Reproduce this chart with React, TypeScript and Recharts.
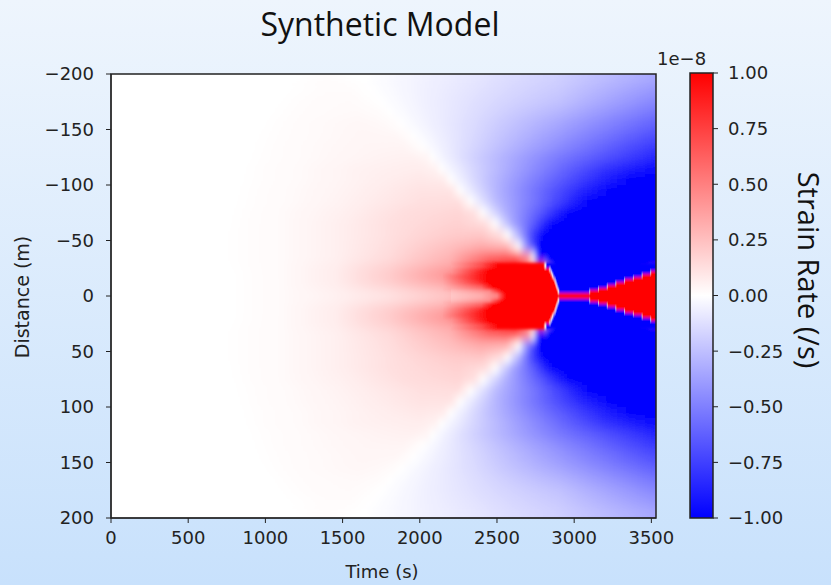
import type { ReactNode } from "react"
import { ComposedChart, ReferenceArea, Scatter, XAxis, YAxis } from "recharts"

const timeTicks = [0, 500, 1000, 1500, 2000, 2500, 3000, 3500]
const distanceTicks = [-200, -150, -100, -50, 0, 50, 100, 150, 200]
const colorbarTicks = [-1, -0.75, -0.5, -0.25, 0, 0.25, 0.5, 0.75, 1]
const timeMax = 3530

// |distance| band edges (m), the model is symmetric about 0
const bandEdges = [0, 2.5, 5, 7.5, 10, 12.5, 15, 17.5, 20, 22.5, 25, 30, 40, 50, 60, 70, 80, 90, 100, 110, 120, 130, 140, 150, 160, 170, 180, 190, 200]

// strain rate (1e-8 /s) read along each band, as [time (s), value]
const bandStrain: [number, number][][] = [
    [[0, 0], [750, 0], [1100, 0.02], [1450, 0.05], [1800, 0.11], [2200, 0.22], [2400, 0.33], [2500, 0.5], [2560, 1], [3530, 1]],
    [[0, 0], [750, 0], [1100, 0.02], [1450, 0.06], [1800, 0.12], [2200, 0.25], [2450, 0.45], [2540, 1], [2888, 1], [2898, 0], [2908, -1], [3095, -1], [3101, 0], [3107, 1], [3530, 1]],
    [[0, 0], [750, 0], [1100, 0.02], [1450, 0.06], [1800, 0.15], [2150, 0.28], [2400, 0.55], [2505, 1], [2884, 1], [2894, 0], [2904, -1], [3151, -1], [3157, 0], [3163, 1], [3530, 1]],
    [[0, 0], [750, 0], [1100, 0.02], [1450, 0.07], [1800, 0.17], [2150, 0.3], [2400, 0.65], [2475, 1], [2878, 1], [2888, 0], [2898, -1], [3208, -1], [3214, 0], [3220, 1], [3530, 1]],
    [[0, 0], [750, 0], [1100, 0.02], [1450, 0.07], [1800, 0.19], [2150, 0.34], [2380, 0.78], [2450, 1], [2872, 1], [2882, 0], [2892, -1], [3264, -1], [3270, 0], [3276, 1], [3530, 1]],
    [[0, 0], [750, 0], [1100, 0.02], [1450, 0.07], [1800, 0.2], [2150, 0.37], [2380, 0.85], [2440, 1], [2866, 1], [2876, 0], [2886, -1], [3321, -1], [3327, 0], [3333, 1], [3530, 1]],
    [[0, 0], [750, 0], [1100, 0.02], [1450, 0.07], [1800, 0.2], [2150, 0.4], [2370, 0.87], [2436, 1], [2858, 1], [2868, 0], [2878, -1], [3377, -1], [3383, 0], [3389, 1], [3530, 1]],
    [[0, 0], [750, 0], [1100, 0.02], [1450, 0.07], [1800, 0.2], [2150, 0.4], [2370, 0.85], [2440, 1], [2850, 1], [2860, 0], [2870, -1], [3434, -1], [3440, 0], [3446, 1], [3530, 1]],
    [[0, 0], [750, 0], [1100, 0.02], [1450, 0.07], [1800, 0.2], [2200, 0.42], [2380, 0.85], [2448, 1], [2842, 1], [2852, 0], [2862, -1], [3490, -1], [3496, 0], [3502, 1], [3530, 1]],
    [[0, 0], [750, 0], [1100, 0.02], [1450, 0.07], [1800, 0.19], [2200, 0.4], [2390, 0.82], [2460, 1], [2832, 1], [2843, 0], [2854, -1], [3530, -1]],
    [[0, 0], [720, 0], [1100, 0.02], [1450, 0.07], [1800, 0.18], [2200, 0.35], [2400, 0.7], [2510, 1], [2800, 1], [2813, 0], [2826, -1], [3530, -1]],
    [[0, 0], [700, 0], [1100, 0.02], [1450, 0.06], [1800, 0.14], [2200, 0.3], [2450, 0.6], [2620, 0.7], [2700, 0.4], [2735, 0], [2775, -1], [3530, -1]],
    [[0, 0], [700, 0], [1100, 0.02], [1450, 0.06], [1800, 0.13], [2200, 0.25], [2400, 0.33], [2560, 0.3], [2640, 0], [2700, -0.5], [2780, -1], [3530, -1]],
    [[0, 0], [700, 0], [1100, 0.02], [1450, 0.06], [1800, 0.12], [2200, 0.2], [2400, 0.22], [2520, 0.12], [2570, 0], [2650, -0.35], [2720, -0.7], [2800, -1], [3530, -1]],
    [[0, 0], [720, 0], [1100, 0.02], [1450, 0.06], [1800, 0.12], [2250, 0.18], [2420, 0.13], [2490, 0], [2600, -0.35], [2740, -0.65], [2860, -1], [3530, -1]],
    [[0, 0], [740, 0], [1100, 0.02], [1500, 0.06], [1900, 0.13], [2250, 0.16], [2350, 0.12], [2410, 0], [2550, -0.3], [2780, -0.65], [2970, -1], [3530, -1]],
    [[0, 0], [760, 0], [1150, 0.02], [1500, 0.05], [2000, 0.12], [2250, 0.13], [2330, 0], [2500, -0.28], [2750, -0.55], [2950, -0.8], [3100, -1], [3530, -1]],
    [[0, 0], [780, 0], [1150, 0.02], [1550, 0.05], [2000, 0.11], [2200, 0.11], [2260, 0], [2500, -0.3], [2800, -0.6], [3050, -0.85], [3240, -1], [3530, -1]],
    [[0, 0], [800, 0], [1200, 0.02], [1600, 0.05], [2000, 0.09], [2150, 0.08], [2200, 0], [2450, -0.25], [2800, -0.55], [3100, -0.8], [3370, -1], [3530, -1]],
    [[0, 0], [820, 0], [1200, 0.02], [1600, 0.05], [2000, 0.07], [2100, 0.05], [2140, 0], [2400, -0.2], [2800, -0.5], [3200, -0.8], [3530, -0.97]],
    [[0, 0], [850, 0], [1250, 0.02], [1650, 0.045], [1950, 0.055], [2050, 0.04], [2080, 0], [2350, -0.18], [2900, -0.52], [3530, -0.86]],
    [[0, 0], [880, 0], [1250, 0.02], [1650, 0.04], [1900, 0.045], [2020, 0], [2350, -0.16], [2900, -0.45], [3530, -0.78]],
    [[0, 0], [900, 0], [1300, 0.02], [1650, 0.035], [1850, 0.03], [1960, 0], [2350, -0.15], [2900, -0.4], [3530, -0.7]],
    [[0, 0], [950, 0], [1300, 0.02], [1600, 0.03], [1780, 0.025], [1880, 0], [2350, -0.14], [2900, -0.35], [3530, -0.62]],
    [[0, 0], [1000, 0], [1300, 0.015], [1600, 0.025], [1720, 0.015], [1810, 0], [2350, -0.13], [2900, -0.29], [3530, -0.54]],
    [[0, 0], [1050, 0], [1350, 0.015], [1550, 0.02], [1750, 0], [2350, -0.12], [2900, -0.24], [3530, -0.47]],
    [[0, 0], [1100, 0], [1400, 0.01], [1550, 0.01], [1690, 0], [2350, -0.11], [2900, -0.21], [3530, -0.41]],
    [[0, 0], [1150, 0], [1400, 0.01], [1640, 0], [2350, -0.1], [2900, -0.19], [3530, -0.35]],
]

// the source zone (|d| <= 30 m) is redrawn sharp, from each band's first reading after 2100 s
const sharpLimit = 30
const sharpFrom = 2100

// matplotlib "bwr" colormap
const bwr = (v: number) => {
    const c = Math.max(-1, Math.min(1, v))
    if (c >= 0) {
        const g = Math.round(255 * (1 - c))
        return `rgb(255,${g},${g})`
    }
    const g = Math.round(255 * (1 + c))
    return `rgb(${g},${g},255)`
}

const minus = (v: number | string) => String(v).replace("-", "\u2212")
const ink = "#222"
const tickStyle = { fontSize: 18, fill: ink, fontFamily: "DejaVu Sans" }

// band edges as points, so the axes have something to scale (not drawn)
const edgePoints = bandEdges.flatMap((e) => [{ t: timeMax, d: -e }, { t: timeMax, d: e }])
const colorbarPoints = colorbarTicks.map((v) => ({ x: 0.5, v }))

const sharpBands = bandStrain.map((_, i) => i).filter((i) => bandEdges[i + 1] <= sharpLimit)
const sharpStops = (i: number) => bandStrain[i].filter(([t]) => t >= sharpFrom)

const bandPair = (i: number, x1: number, grad: string) => [
    <ReferenceArea key={`up${i}`} x1={x1} x2={timeMax} y1={-bandEdges[i + 1]} y2={-bandEdges[i]}
        fill={`url(#${grad}${i})`} fillOpacity={1} stroke="none" shapeRendering="crispEdges" />,
    <ReferenceArea key={`down${i}`} x1={x1} x2={timeMax} y1={bandEdges[i]} y2={bandEdges[i + 1]}
        fill={`url(#${grad}${i})`} fillOpacity={1} stroke="none" shapeRendering="crispEdges" />,
]

// chart with hidden axes laid over the same plot box as the main chart
const HeatLayer = ({ children }: { children: ReactNode }) => (
    <ComposedChart width={700} height={585} margin={{ top: 74, right: 44, bottom: 67, left: 111 }}>
        <XAxis type="number" dataKey="t" domain={[0, timeMax]} allowDataOverflow hide />
        <YAxis type="number" dataKey="d" domain={[-200, 200]} reversed allowDataOverflow hide />
        {children}
        <Scatter data={edgePoints} dataKey="d" shape={() => <g />} isAnimationActive={false} />
    </ComposedChart>
)

const App = () => {
    return (
        <div style={{
            position: "absolute", left: 0, top: 0, width: 831, height: 585, overflow: "hidden",
            background: "linear-gradient(to bottom, #eef5fd, #c8e1fc)", fontFamily: "DejaVu Sans",
        }}>
            <svg width={0} height={0} style={{ position: "absolute" }}>
                <defs>
                    <filter id="smooth" x="-3%" y="-5%" width="106%" height="110%">
                        <feGaussianBlur stdDeviation="2 5" />
                        <feComponentTransfer>
                            <feFuncA type="linear" slope={60} />
                        </feComponentTransfer>
                    </filter>
                    <filter id="soft" x="-3%" y="-5%" width="106%" height="110%">
                        <feGaussianBlur stdDeviation="0.7 1.4" />
                    </filter>
                    {bandStrain.map((stops, i) => (
                        <linearGradient key={`b${i}`} id={`band${i}`} x1="0" y1="0" x2="1" y2="0">
                            {stops.map(([t, v], j) => (
                                <stop key={j} offset={t / timeMax} stopColor={bwr(v)} />
                            ))}
                        </linearGradient>
                    ))}
                    {sharpBands.map((i) => {
                        const t0 = sharpStops(i)[0][0]
                        return (
                            <linearGradient key={`s${i}`} id={`sharp${i}`} x1="0" y1="0" x2="1" y2="0">
                                {sharpStops(i).map(([t, v], j) => (
                                    <stop key={j} offset={(t - t0) / (timeMax - t0)} stopColor={bwr(v)} />
                                ))}
                            </linearGradient>
                        )
                    })}
                </defs>
            </svg>
            {/* heatmap, all bands, softened */}
            <div style={{ position: "absolute", left: 111, top: 74, width: 545, height: 444, overflow: "hidden", background: "#fff" }}>
                <div style={{ position: "absolute", left: -111, top: -74, filter: "url(#smooth)" }}>
                    <HeatLayer>{bandStrain.flatMap((_, i) => bandPair(i, 0, "band"))}</HeatLayer>
                </div>
            </div>
            {/* source zone, sharp */}
            <div style={{ position: "absolute", left: 0, top: 0, filter: "url(#soft)" }}>
                <HeatLayer>{sharpBands.flatMap((i) => bandPair(i, sharpStops(i)[0][0], "sharp"))}</HeatLayer>
            </div>
            <div style={{ position: "absolute", left: 0, top: 0 }}>
                <ComposedChart width={700} height={585} margin={{ top: 74, right: 44, bottom: 37, left: 0 }}>
                    <XAxis type="number" dataKey="t" domain={[0, timeMax]} ticks={timeTicks} interval={0}
                        allowDataOverflow height={30} tickSize={5} tickMargin={8} tick={tickStyle}
                        axisLine={{ stroke: ink }} tickLine={{ stroke: ink }} />
                    <YAxis type="number" dataKey="d" domain={[-200, 200]} reversed ticks={distanceTicks} interval={0}
                        allowDataOverflow width={111} tickSize={5} tickMargin={12} tick={tickStyle} tickFormatter={minus}
                        axisLine={{ stroke: ink }} tickLine={{ stroke: ink }} />
                    <Scatter data={edgePoints} dataKey="d" shape={() => <g />} isAnimationActive={false} />
                    <ReferenceArea x1={0} x2={timeMax} y1={-200} y2={200} fill="none" stroke={ink} strokeWidth={1.5} />
                </ComposedChart>
            </div>
            <div style={{ position: "absolute", left: 640, top: 0 }}>
                <ComposedChart width={191} height={585} margin={{ top: 73, right: 38, bottom: 67, left: 50 }}>
                    <defs>
                        <linearGradient id="cbar" x1="0" y1="0" x2="0" y2="1">
                            <stop offset={0} stopColor={bwr(1)} />
                            <stop offset={0.5} stopColor={bwr(0)} />
                            <stop offset={1} stopColor={bwr(-1)} />
                        </linearGradient>
                    </defs>
                    <XAxis type="number" dataKey="x" domain={[0, 1]} hide />
                    <YAxis type="number" dataKey="v" orientation="right" domain={[-1, 1]} ticks={colorbarTicks} interval={0}
                        width={80} tickSize={5} tickMargin={10} tick={tickStyle}
                        tickFormatter={(v: number) => minus(Number(v).toFixed(2))}
                        axisLine={false} tickLine={{ stroke: ink }} />
                    <ReferenceArea x1={0} x2={1} y1={-1} y2={1} fill="url(#cbar)" fillOpacity={1} stroke={ink} strokeWidth={1.5} />
                    <Scatter data={colorbarPoints} dataKey="v" shape={() => <g />} isAnimationActive={false} />
                </ComposedChart>
            </div>
            <svg width={831} height={585} style={{ position: "absolute", left: 0, top: 0, pointerEvents: "none" }}>
                <text x={380} y={36} textAnchor="middle" fontFamily="Open Sans" fontSize={32} fill="#111">Synthetic Model</text>
                <text x={382} y={578} textAnchor="middle" fontFamily="DejaVu Sans" fontSize={18} fill={ink}>Time (s)</text>
                <text transform="translate(29,297) rotate(-90)" textAnchor="middle" fontFamily="DejaVu Sans" fontSize={19} fill={ink}>Distance (m)</text>
                <text x={657} y={65} fontFamily="DejaVu Sans" fontSize={18} fill={ink}>1e{"\u2212"}8</text>
                <text transform="translate(798,270) rotate(90)" textAnchor="middle" fontFamily="Open Sans" fontSize={29} fill="#111">Strain Rate (/s)</text>
            </svg>
        </div>
    )
}

export default App
